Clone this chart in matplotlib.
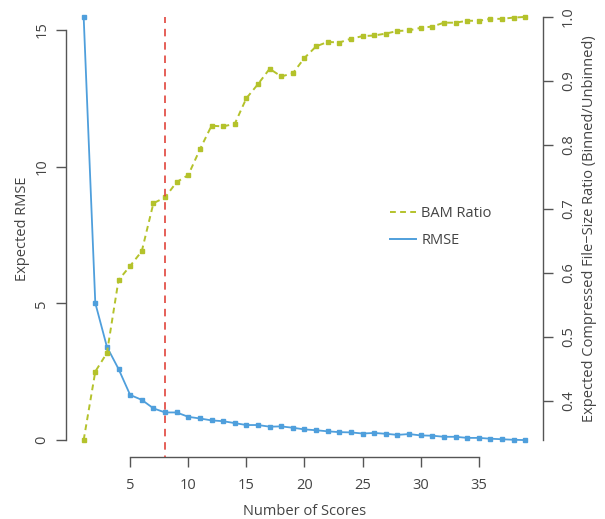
import numpy as np
import matplotlib
matplotlib.use('Agg')
import matplotlib.pyplot as plt
from matplotlib.lines import Line2D

plt.rcParams['font.family'] = ['Open Sans', 'DejaVu Sans']

# number of score bins
n_scores = list(range(1, 40))

rmse = [15.47, 5.01, 3.41, 2.60, 1.65, 1.47, 1.16, 1.01, 1.01, 0.85,
        0.79, 0.72, 0.69, 0.62, 0.55, 0.55, 0.49, 0.50, 0.45, 0.39,
        0.36, 0.32, 0.29, 0.28, 0.24, 0.26, 0.23, 0.19, 0.22, 0.17,
        0.16, 0.12, 0.12, 0.08, 0.08, 0.05, 0.03, 0.01, 0.0]

bam_ratio = [0.339, 0.446, 0.475, 0.589, 0.611, 0.634, 0.709, 0.718, 0.742, 0.753,
             0.793, 0.830, 0.829, 0.833, 0.873, 0.895, 0.919, 0.907, 0.912, 0.936,
             0.954, 0.961, 0.960, 0.966, 0.970, 0.971, 0.974, 0.978, 0.979, 0.983,
             0.985, 0.991, 0.991, 0.994, 0.994, 0.997, 0.997, 0.999, 1.0]

chosen = 8

blue = '#4f9fdc'
green = '#b4c22b'
red = '#e0443c'
axcol = '#555555'
txtcol = '#444444'

fig = plt.figure(figsize=(6.05, 5.19), dpi=100)
ax = fig.add_axes([66/605, (519-457)/519, (543-66)/605, 457/519])
ax2 = ax.twinx()

def rpad(lo, hi):
    # R style 4% axis extension
    d = 0.04*(hi - lo)
    return lo - d, hi + d

ax.plot(n_scores, rmse, '-', color=blue, lw=1.3, marker='s', ms=3.5, mec=blue, label='RMSE')
ax2.plot(n_scores, bam_ratio, '--', color=green, lw=1.4, dashes=(3, 2.2), marker='s', ms=3.5,
         mec=green, label='BAM Ratio')
ax2.plot([chosen, chosen], [rpad(min(bam_ratio), max(bam_ratio))[0] - 0.01, max(bam_ratio)],
         '--', color=red, lw=1.2, dashes=(4.5, 3.5), zorder=5)

ax.set_xlim(rpad(min(n_scores), max(n_scores)))
ax.set_ylim(rpad(0, max(rmse)))
ax2.set_ylim(rpad(min(bam_ratio), max(bam_ratio)))

for a in (ax, ax2):
    for s in a.spines.values():
        s.set_color(axcol)
        s.set_linewidth(1.0)
    a.spines['top'].set_visible(False)
    a.tick_params(colors=axcol, labelcolor=txtcol, length=7, width=1.0, labelsize=10.5)

ax.spines['right'].set_visible(False)
ax2.spines['left'].set_visible(False)
ax2.spines['bottom'].set_visible(False)

ax.set_xticks([5, 10, 15, 20, 25, 30, 35])
ax.spines['bottom'].set_bounds(5, 35)
ax.set_yticks([0, 5, 10, 15])
ax.spines['left'].set_bounds(0, 15)
ax2.set_yticks([0.4, 0.5, 0.6, 0.7, 0.8, 0.9, 1.0])
ax2.set_yticklabels(['0.4', '0.5', '0.6', '0.7', '0.8', '0.9', '1.0'])
ax2.spines['right'].set_bounds(min(bam_ratio), max(bam_ratio))

for lab in ax.get_yticklabels():
    lab.set_rotation(90)
    lab.set_va('center')
for lab in ax2.get_yticklabels():
    lab.set_rotation(90)
    lab.set_va('center')
ax.tick_params(axis='y', pad=5)
ax2.tick_params(axis='y', pad=6)
ax.tick_params(axis='x', pad=8)

ax.set_xlabel('Number of Scores', fontsize=10.5, color=txtcol, labelpad=8)
ax.set_ylabel('Expected RMSE', fontsize=10.5, color=txtcol, labelpad=3)
ax2.set_ylabel('Expected Compressed File\u2212Size Ratio (Binned/Unbinned)', fontsize=10.5,
               color=txtcol, labelpad=4)

handles = [Line2D([], [], color=green, lw=1.4, ls='--', dashes=(3, 2.2)),
           Line2D([], [], color=blue, lw=1.4)]
leg = ax2.legend(handles, ['BAM Ratio', 'RMSE'], loc='center left',
                 bbox_to_anchor=((377-66)/477, 1 - 227/457), frameon=False,
                 fontsize=10.5, handlelength=1.8, handletextpad=0.35, labelspacing=0.8)
for t in leg.get_texts():
    t.set_color(txtcol)

fig.savefig('out.png', dpi=100)
